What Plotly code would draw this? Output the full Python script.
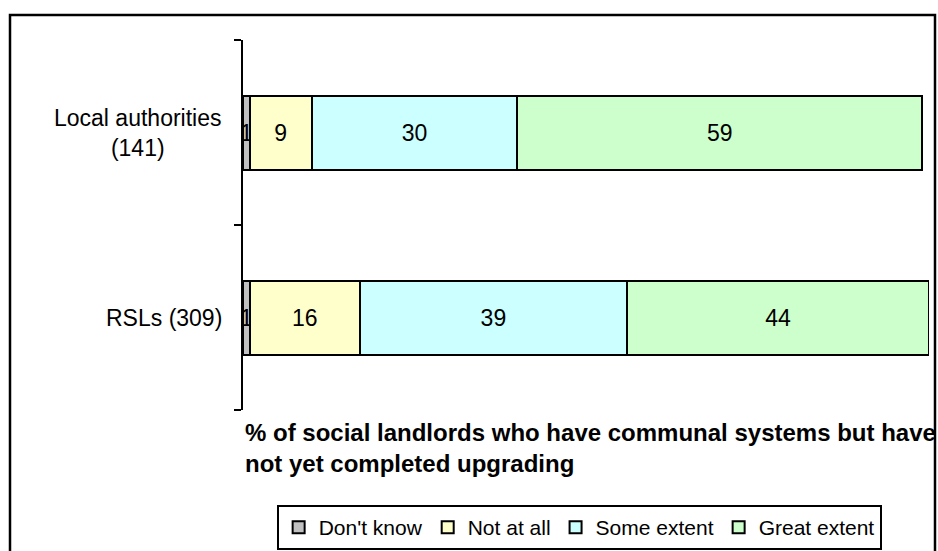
import plotly.graph_objects as go

# Survey groups (top to bottom) and response shares in percent
groups = ["Local authorities (141)", "RSLs (309)"]
group_labels = ["Local authorities<br>(141)", "RSLs (309)"]
responses = ["Don't know", "Not at all", "Some extent", "Great extent"]
dont_know = [1, 1]
not_at_all = [9, 16]
some_extent = [30, 39]
great_extent = [59, 44]
fill_colors = ["#C0C0C0", "#FFFFCC", "#CCFFFF", "#CCFFCC"]

x_title = "% of social landlords who have communal systems but have<br>not yet completed upgrading"

W, H = 938, 551
L, R, T, B = 243, 9, 40, 141
pw, ph = W - L - R, H - T - B


def px_x(p):
    return (p - L) / pw


def px_y(p):
    return (H - B - p) / ph


FONT = "Arial, Liberation Sans, sans-serif"

fig = go.Figure()
for name, vals, col in zip(responses, [dont_know, not_at_all, some_extent, great_extent], fill_colors):
    fig.add_trace(go.Bar(
        y=groups, x=vals, name=name, orientation="h",
        marker=dict(color=col, line=dict(color="black", width=2)),
        text=vals, texttemplate="%{x}", textposition="inside",
        insidetextanchor="middle", textangle=0,
        textfont=dict(family=FONT, size=23, color="black"),
        hoverinfo="skip",
    ))

fig.update_layout(
    width=W, height=H,
    margin=dict(l=L, r=R, t=T, b=B, pad=0, autoexpand=False),
    barmode="stack", bargap=0.6,
    paper_bgcolor="white", plot_bgcolor="white",
    font=dict(family=FONT, size=23, color="black"),
    uniformtext=dict(minsize=23, mode="show"),
    showlegend=True,
    legend=dict(
        orientation="h", x=0.49, xanchor="center", y=px_y(505), yanchor="top",
        bordercolor="black", borderwidth=2, bgcolor="white",
        font=dict(family=FONT, size=21, color="black"),
        itemsizing="constant", traceorder="normal",
        itemwidth=30, tracegroupgap=0,
    ),
    xaxis=dict(range=[0, 100], visible=False, fixedrange=True),
    yaxis=dict(
        type="category",
        categoryorder="array", categoryarray=groups[::-1],
        range=[-0.5, 1.5],
        showticklabels=False,
        showline=True, linecolor="black", linewidth=2,
        ticks="outside", tickson="boundaries", ticklen=7,
        tickcolor="black", tickwidth=2,
        showgrid=False, zeroline=False,
    ),
)

# Category labels, centred line by line to the left of the axis
for g, lab in zip(groups, group_labels):
    fig.add_annotation(
        x=px_x(224), xref="paper", y=g, yref="y",
        text=lab, showarrow=False, xanchor="right", yanchor="middle",
        align="center", font=dict(family=FONT, size=23, color="black"),
    )

# Bold axis caption beneath the bars
fig.add_annotation(
    x=0, xref="paper", y=px_y(417), yref="paper",
    text="<b>" + x_title + "</b>", showarrow=False,
    xanchor="left", yanchor="top", align="left",
    font=dict(family=FONT, size=24, color="black"),
)

# Outer chart frame
fig.add_shape(
    type="rect", xref="paper", yref="paper",
    x0=px_x(10), x1=px_x(935), y0=px_y(600), y1=px_y(15),
    line=dict(color="black", width=2.5), fillcolor="rgba(0,0,0,0)", layer="below",
)

fig.write_html("out.html")
